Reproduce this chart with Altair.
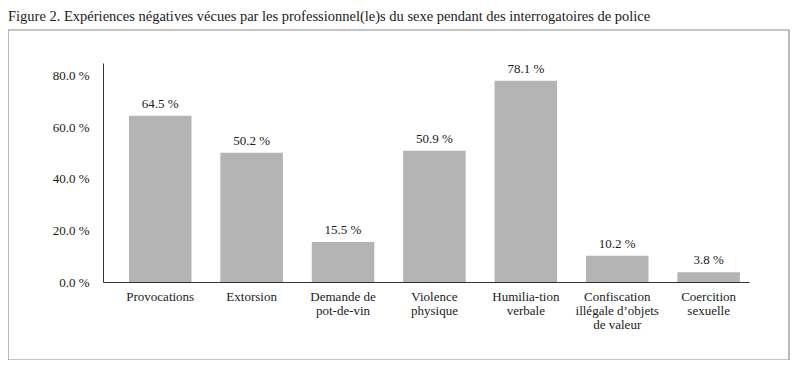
import altair as alt
import pandas as pd

categories = [
    "Provocations",
    "Extorsion",
    "Demande de|pot-de-vin",
    "Violence|physique",
    "Humilia-tion|verbale",
    "Confiscation|illégale d’objets|de valeur",
    "Coercition|sexuelle",
]
values = [64.5, 50.2, 15.5, 50.9, 78.1, 10.2, 3.8]
y_ticks = [0, 20, 40, 60, 80]
title_text = "Figure 2. Expériences négatives vécues par les professionnel(le)s du sexe  pendant des interrogatoires de police"

df = pd.DataFrame({"cat": categories, "val": values})
df["lab"] = [f"{v:.1f} %" for v in values]

FONT = "Liberation Serif"
TXT = "#1a1a1a"

x_enc = alt.X(
    "cat:N",
    sort=categories,
    title=None,
    scale=alt.Scale(paddingInner=0.316, paddingOuter=0.192, align=0.74),
    axis=alt.Axis(
        labelAngle=0,
        labelExpr="split(datum.label, '|')",
        labelFont=FONT,
        labelFontSize=13,
        labelColor=TXT,
        labelPadding=8,
        labelLineHeight=14,
        ticks=False,
        domainColor="#333333",
        domainWidth=1,
    ),
)
y_enc = alt.Y(
    "val:Q",
    title=None,
    scale=alt.Scale(domain=[0, 85], nice=False),
    axis=alt.Axis(
        values=y_ticks,
        labelExpr="format(datum.value, '.1f') + ' %'",
        grid=False,
        ticks=False,
        labelPadding=14,
        labelFont=FONT,
        labelFontSize=13,
        labelColor=TXT,
        domainColor="#333333",
        domainWidth=1,
    ),
)

base = alt.Chart(df)
bars = base.mark_bar(color="#b4b4b4").encode(x=x_enc, y=y_enc)
labels = base.mark_text(
    baseline="bottom", dy=-5, font=FONT, fontSize=13, color=TXT
).encode(x=alt.X("cat:N", sort=categories), y="val:Q", text="lab:N")

one = alt.Chart(pd.DataFrame({"a": [0]}))
box = one.mark_rect(
    fillOpacity=0, stroke="#8c8c8c", strokeWidth=1.2
).encode(
    x=alt.value(-95), x2=alt.value(686), y=alt.value(-33), y2=alt.value(297)
)
title_mark = one.mark_text(
    align="left", baseline="alphabetic", font=FONT, fontSize=14.5, color=TXT
).encode(x=alt.value(-95), y=alt.value(-42), text=alt.value(title_text))

chart = (
    alt.layer(bars, labels, box, title_mark)
    .properties(
        width=646,
        height=219,
        padding={"left": 95, "top": 55, "right": 42, "bottom": 78},
        autosize=alt.AutoSizeParams(type="none"),
    )
    .configure_view(stroke=None)
)

chart.save("out.html", embed_options={"renderer": "svg", "actions": False})
